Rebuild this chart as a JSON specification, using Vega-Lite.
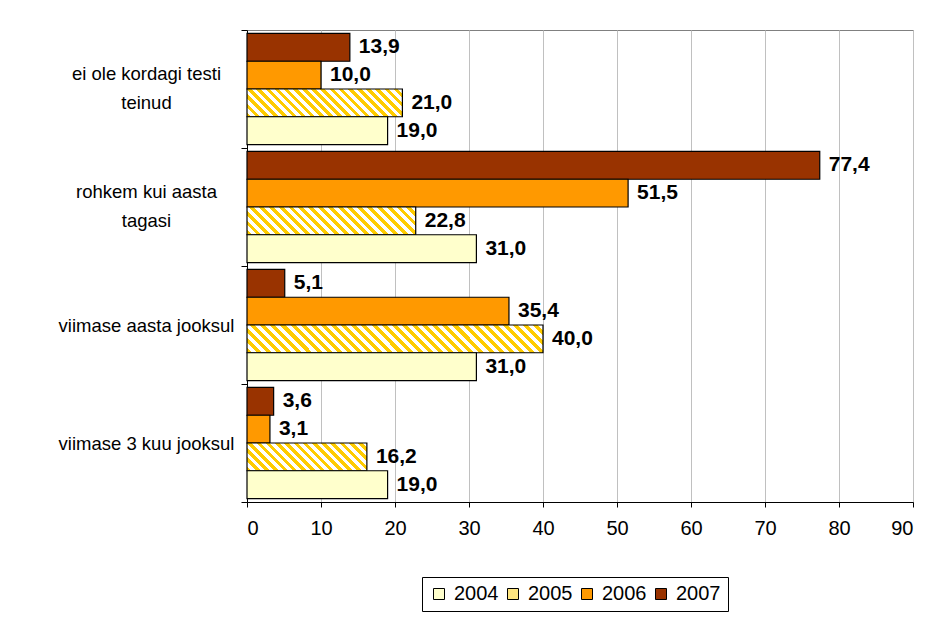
{
  "$schema": "https://vega.github.io/schema/vega-lite/v6.json",
  "width": 666,
  "height": 472,
  "autosize": {"type": "none"},
  "padding": {"left": 247, "top": 30, "right": 21, "bottom": 117},
  "background": "white",
  "data": {
    "values": [
      {"cat": "ei ole kordagi testi teinud", "year": "2007", "value": 13.9},
      {"cat": "ei ole kordagi testi teinud", "year": "2006", "value": 10.0},
      {"cat": "ei ole kordagi testi teinud", "year": "2005", "value": 21.0},
      {"cat": "ei ole kordagi testi teinud", "year": "2004", "value": 19.0},
      {"cat": "rohkem kui aasta tagasi", "year": "2007", "value": 77.4},
      {"cat": "rohkem kui aasta tagasi", "year": "2006", "value": 51.5},
      {"cat": "rohkem kui aasta tagasi", "year": "2005", "value": 22.8},
      {"cat": "rohkem kui aasta tagasi", "year": "2004", "value": 31.0},
      {"cat": "viimase aasta jooksul", "year": "2007", "value": 5.1},
      {"cat": "viimase aasta jooksul", "year": "2006", "value": 35.4},
      {"cat": "viimase aasta jooksul", "year": "2005", "value": 40.0},
      {"cat": "viimase aasta jooksul", "year": "2004", "value": 31.0},
      {"cat": "viimase 3 kuu jooksul", "year": "2007", "value": 3.6},
      {"cat": "viimase 3 kuu jooksul", "year": "2006", "value": 3.1},
      {"cat": "viimase 3 kuu jooksul", "year": "2005", "value": 16.2},
      {"cat": "viimase 3 kuu jooksul", "year": "2004", "value": 19.0}
    ]
  },
  "encoding": {
    "y": {
      "field": "cat",
      "type": "nominal",
      "sort": ["ei ole kordagi testi teinud", "rohkem kui aasta tagasi", "viimase aasta jooksul", "viimase 3 kuu jooksul"],
      "scale": {"paddingInner": 0, "paddingOuter": 0},
      "axis": {
        "title": null,
        "tickBand": "extent",
        "tickSize": 6,
        "tickColor": "black",
        "domainColor": "black",
        "grid": false,
        "labelAlign": "center",
        "labelBaseline": "middle",
        "labelPadding": 95,
        "labelLineHeight": 29,
        "labelOffset": {"condition": {"test": "datum.value == 'ei ole kordagi testi teinud' || datum.value == 'rohkem kui aasta tagasi'", "value": -16}, "value": 0},
        "labelFont": "Liberation Sans",
        "labelFontSize": 18.5,
        "labelColor": "black",
        "labelLimit": 400,
        "labelExpr": "datum.value == 'ei ole kordagi testi teinud' ? ['ei ole kordagi testi', 'teinud'] : datum.value == 'rohkem kui aasta tagasi' ? ['rohkem kui aasta', 'tagasi'] : datum.label"
      }
    },
    "yOffset": {
      "field": "year",
      "type": "nominal",
      "sort": ["2007", "2006", "2005", "2004"],
      "scale": {"paddingInner": 0, "paddingOuter": 0.125}
    },
    "x": {
      "field": "value",
      "type": "quantitative",
      "scale": {"domain": [0, 90], "nice": false},
      "axis": {
        "title": null,
        "values": [0, 10, 20, 30, 40, 50, 60, 70, 80, 90],
        "grid": true,
        "gridColor": "#C0C0C0",
        "gridWidth": 1,
        "domainColor": "black",
        "tickColor": "black",
        "tickSize": 5,
        "labelPadding": 11,
        "labelFont": "Liberation Sans",
        "labelFontSize": 20,
        "labelColor": "black",
        "format": "d"
      }
    }
  },
  "layer": [
    {
      "mark": {"type": "bar", "stroke": "black", "strokeWidth": 1.2},
      "encoding": {
        "fill": {
          "field": "year",
          "type": "nominal",
          "scale": {"domain": ["2004", "2005", "2006", "2007"], "range": ["#FFFFCC", "#FFE680", "#FF9900", "#993300"]},
          "legend": {
            "orient": "none",
            "legendX": 175,
            "legendY": 547,
            "direction": "horizontal",
            "title": null,
            "symbolType": "square",
            "symbolSize": 121,
            "symbolStrokeColor": "black",
            "symbolStrokeWidth": 1,
            "labelFont": "Liberation Sans",
            "labelFontSize": 20,
            "labelColor": "black",
            "labelOffset": 5,
            "columnPadding": 4,
            "padding": 7,
            "strokeColor": "black",
            "fillColor": "white",
            "encode": {
              "symbols": {
                "update": {
                  "fill": [
                    {"test": "datum.label === '2005'", "value": {"gradient": "linear", "x1": 0, "y1": 0, "x2": 1, "y2": 1, "stops": [{"offset": 0, "color": "#FFCC00"}, {"offset": 0.5, "color": "#FFCC00"}, {"offset": 0.5, "color": "#FFFFFF"}, {"offset": 1, "color": "#FFFFFF"}]}},
                    {"scale": "fill", "field": "value"}
                  ],
                  "stroke": {"value": "black"},
                  "strokeWidth": {"value": 1},
                  "opacity": {"value": 1}
                }
              }
            }
          },
          "condition": [
            {"test": "datum.year == '2005' && datum.cat == 'ei ole kordagi testi teinud'", "value": {"gradient": "linear", "x1": 0, "y1": 1, "x2": 1.14219, "y2": 0.79596, "stops": [
              {"offset": 0, "color": "#FFCC00"}, {"offset": 0.025, "color": "#FFCC00"}, {"offset": 0.025, "color": "#FFFFFF"}, {"offset": 0.05, "color": "#FFFFFF"},
              {"offset": 0.05, "color": "#FFCC00"}, {"offset": 0.075, "color": "#FFCC00"}, {"offset": 0.075, "color": "#FFFFFF"}, {"offset": 0.1, "color": "#FFFFFF"},
              {"offset": 0.1, "color": "#FFCC00"}, {"offset": 0.125, "color": "#FFCC00"}, {"offset": 0.125, "color": "#FFFFFF"}, {"offset": 0.15, "color": "#FFFFFF"},
              {"offset": 0.15, "color": "#FFCC00"}, {"offset": 0.175, "color": "#FFCC00"}, {"offset": 0.175, "color": "#FFFFFF"}, {"offset": 0.2, "color": "#FFFFFF"},
              {"offset": 0.2, "color": "#FFCC00"}, {"offset": 0.225, "color": "#FFCC00"}, {"offset": 0.225, "color": "#FFFFFF"}, {"offset": 0.25, "color": "#FFFFFF"},
              {"offset": 0.25, "color": "#FFCC00"}, {"offset": 0.275, "color": "#FFCC00"}, {"offset": 0.275, "color": "#FFFFFF"}, {"offset": 0.3, "color": "#FFFFFF"},
              {"offset": 0.3, "color": "#FFCC00"}, {"offset": 0.325, "color": "#FFCC00"}, {"offset": 0.325, "color": "#FFFFFF"}, {"offset": 0.35, "color": "#FFFFFF"},
              {"offset": 0.35, "color": "#FFCC00"}, {"offset": 0.375, "color": "#FFCC00"}, {"offset": 0.375, "color": "#FFFFFF"}, {"offset": 0.4, "color": "#FFFFFF"},
              {"offset": 0.4, "color": "#FFCC00"}, {"offset": 0.425, "color": "#FFCC00"}, {"offset": 0.425, "color": "#FFFFFF"}, {"offset": 0.45, "color": "#FFFFFF"},
              {"offset": 0.45, "color": "#FFCC00"}, {"offset": 0.475, "color": "#FFCC00"}, {"offset": 0.475, "color": "#FFFFFF"}, {"offset": 0.5, "color": "#FFFFFF"},
              {"offset": 0.5, "color": "#FFCC00"}, {"offset": 0.525, "color": "#FFCC00"}, {"offset": 0.525, "color": "#FFFFFF"}, {"offset": 0.55, "color": "#FFFFFF"},
              {"offset": 0.55, "color": "#FFCC00"}, {"offset": 0.575, "color": "#FFCC00"}, {"offset": 0.575, "color": "#FFFFFF"}, {"offset": 0.6, "color": "#FFFFFF"},
              {"offset": 0.6, "color": "#FFCC00"}, {"offset": 0.625, "color": "#FFCC00"}, {"offset": 0.625, "color": "#FFFFFF"}, {"offset": 0.65, "color": "#FFFFFF"},
              {"offset": 0.65, "color": "#FFCC00"}, {"offset": 0.675, "color": "#FFCC00"}, {"offset": 0.675, "color": "#FFFFFF"}, {"offset": 0.7, "color": "#FFFFFF"},
              {"offset": 0.7, "color": "#FFCC00"}, {"offset": 0.725, "color": "#FFCC00"}, {"offset": 0.725, "color": "#FFFFFF"}, {"offset": 0.75, "color": "#FFFFFF"},
              {"offset": 0.75, "color": "#FFCC00"}, {"offset": 0.775, "color": "#FFCC00"}, {"offset": 0.775, "color": "#FFFFFF"}, {"offset": 0.8, "color": "#FFFFFF"},
              {"offset": 0.8, "color": "#FFCC00"}, {"offset": 0.825, "color": "#FFCC00"}, {"offset": 0.825, "color": "#FFFFFF"}, {"offset": 0.85, "color": "#FFFFFF"},
              {"offset": 0.85, "color": "#FFCC00"}, {"offset": 0.875, "color": "#FFCC00"}, {"offset": 0.875, "color": "#FFFFFF"}, {"offset": 0.9, "color": "#FFFFFF"},
              {"offset": 0.9, "color": "#FFCC00"}, {"offset": 0.925, "color": "#FFCC00"}, {"offset": 0.925, "color": "#FFFFFF"}, {"offset": 0.95, "color": "#FFFFFF"},
              {"offset": 0.95, "color": "#FFCC00"}, {"offset": 0.975, "color": "#FFCC00"}, {"offset": 0.975, "color": "#FFFFFF"}, {"offset": 1, "color": "#FFFFFF"}
            ]}},
            {"test": "datum.year == '2005' && datum.cat == 'rohkem kui aasta tagasi'", "value": {"gradient": "linear", "x1": 0, "y1": 1, "x2": 1.13384, "y2": 0.81345, "stops": [
              {"offset": 0, "color": "#FFCC00"}, {"offset": 0.025, "color": "#FFCC00"}, {"offset": 0.025, "color": "#FFFFFF"}, {"offset": 0.05, "color": "#FFFFFF"},
              {"offset": 0.05, "color": "#FFCC00"}, {"offset": 0.075, "color": "#FFCC00"}, {"offset": 0.075, "color": "#FFFFFF"}, {"offset": 0.1, "color": "#FFFFFF"},
              {"offset": 0.1, "color": "#FFCC00"}, {"offset": 0.125, "color": "#FFCC00"}, {"offset": 0.125, "color": "#FFFFFF"}, {"offset": 0.15, "color": "#FFFFFF"},
              {"offset": 0.15, "color": "#FFCC00"}, {"offset": 0.175, "color": "#FFCC00"}, {"offset": 0.175, "color": "#FFFFFF"}, {"offset": 0.2, "color": "#FFFFFF"},
              {"offset": 0.2, "color": "#FFCC00"}, {"offset": 0.225, "color": "#FFCC00"}, {"offset": 0.225, "color": "#FFFFFF"}, {"offset": 0.25, "color": "#FFFFFF"},
              {"offset": 0.25, "color": "#FFCC00"}, {"offset": 0.275, "color": "#FFCC00"}, {"offset": 0.275, "color": "#FFFFFF"}, {"offset": 0.3, "color": "#FFFFFF"},
              {"offset": 0.3, "color": "#FFCC00"}, {"offset": 0.325, "color": "#FFCC00"}, {"offset": 0.325, "color": "#FFFFFF"}, {"offset": 0.35, "color": "#FFFFFF"},
              {"offset": 0.35, "color": "#FFCC00"}, {"offset": 0.375, "color": "#FFCC00"}, {"offset": 0.375, "color": "#FFFFFF"}, {"offset": 0.4, "color": "#FFFFFF"},
              {"offset": 0.4, "color": "#FFCC00"}, {"offset": 0.425, "color": "#FFCC00"}, {"offset": 0.425, "color": "#FFFFFF"}, {"offset": 0.45, "color": "#FFFFFF"},
              {"offset": 0.45, "color": "#FFCC00"}, {"offset": 0.475, "color": "#FFCC00"}, {"offset": 0.475, "color": "#FFFFFF"}, {"offset": 0.5, "color": "#FFFFFF"},
              {"offset": 0.5, "color": "#FFCC00"}, {"offset": 0.525, "color": "#FFCC00"}, {"offset": 0.525, "color": "#FFFFFF"}, {"offset": 0.55, "color": "#FFFFFF"},
              {"offset": 0.55, "color": "#FFCC00"}, {"offset": 0.575, "color": "#FFCC00"}, {"offset": 0.575, "color": "#FFFFFF"}, {"offset": 0.6, "color": "#FFFFFF"},
              {"offset": 0.6, "color": "#FFCC00"}, {"offset": 0.625, "color": "#FFCC00"}, {"offset": 0.625, "color": "#FFFFFF"}, {"offset": 0.65, "color": "#FFFFFF"},
              {"offset": 0.65, "color": "#FFCC00"}, {"offset": 0.675, "color": "#FFCC00"}, {"offset": 0.675, "color": "#FFFFFF"}, {"offset": 0.7, "color": "#FFFFFF"},
              {"offset": 0.7, "color": "#FFCC00"}, {"offset": 0.725, "color": "#FFCC00"}, {"offset": 0.725, "color": "#FFFFFF"}, {"offset": 0.75, "color": "#FFFFFF"},
              {"offset": 0.75, "color": "#FFCC00"}, {"offset": 0.775, "color": "#FFCC00"}, {"offset": 0.775, "color": "#FFFFFF"}, {"offset": 0.8, "color": "#FFFFFF"},
              {"offset": 0.8, "color": "#FFCC00"}, {"offset": 0.825, "color": "#FFCC00"}, {"offset": 0.825, "color": "#FFFFFF"}, {"offset": 0.85, "color": "#FFFFFF"},
              {"offset": 0.85, "color": "#FFCC00"}, {"offset": 0.875, "color": "#FFCC00"}, {"offset": 0.875, "color": "#FFFFFF"}, {"offset": 0.9, "color": "#FFFFFF"},
              {"offset": 0.9, "color": "#FFCC00"}, {"offset": 0.925, "color": "#FFCC00"}, {"offset": 0.925, "color": "#FFFFFF"}, {"offset": 0.95, "color": "#FFFFFF"},
              {"offset": 0.95, "color": "#FFCC00"}, {"offset": 0.975, "color": "#FFCC00"}, {"offset": 0.975, "color": "#FFFFFF"}, {"offset": 1, "color": "#FFFFFF"}
            ]}},
            {"test": "datum.year == '2005' && datum.cat == 'viimase aasta jooksul'", "value": {"gradient": "linear", "x1": 0, "y1": 1, "x2": 1.08425, "y2": 0.89832, "stops": [
              {"offset": 0, "color": "#FFCC00"}, {"offset": 0.015625, "color": "#FFCC00"}, {"offset": 0.015625, "color": "#FFFFFF"}, {"offset": 0.03125, "color": "#FFFFFF"},
              {"offset": 0.03125, "color": "#FFCC00"}, {"offset": 0.046875, "color": "#FFCC00"}, {"offset": 0.046875, "color": "#FFFFFF"}, {"offset": 0.0625, "color": "#FFFFFF"},
              {"offset": 0.0625, "color": "#FFCC00"}, {"offset": 0.078125, "color": "#FFCC00"}, {"offset": 0.078125, "color": "#FFFFFF"}, {"offset": 0.09375, "color": "#FFFFFF"},
              {"offset": 0.09375, "color": "#FFCC00"}, {"offset": 0.109375, "color": "#FFCC00"}, {"offset": 0.109375, "color": "#FFFFFF"}, {"offset": 0.125, "color": "#FFFFFF"},
              {"offset": 0.125, "color": "#FFCC00"}, {"offset": 0.140625, "color": "#FFCC00"}, {"offset": 0.140625, "color": "#FFFFFF"}, {"offset": 0.15625, "color": "#FFFFFF"},
              {"offset": 0.15625, "color": "#FFCC00"}, {"offset": 0.171875, "color": "#FFCC00"}, {"offset": 0.171875, "color": "#FFFFFF"}, {"offset": 0.1875, "color": "#FFFFFF"},
              {"offset": 0.1875, "color": "#FFCC00"}, {"offset": 0.203125, "color": "#FFCC00"}, {"offset": 0.203125, "color": "#FFFFFF"}, {"offset": 0.21875, "color": "#FFFFFF"},
              {"offset": 0.21875, "color": "#FFCC00"}, {"offset": 0.234375, "color": "#FFCC00"}, {"offset": 0.234375, "color": "#FFFFFF"}, {"offset": 0.25, "color": "#FFFFFF"},
              {"offset": 0.25, "color": "#FFCC00"}, {"offset": 0.265625, "color": "#FFCC00"}, {"offset": 0.265625, "color": "#FFFFFF"}, {"offset": 0.28125, "color": "#FFFFFF"},
              {"offset": 0.28125, "color": "#FFCC00"}, {"offset": 0.296875, "color": "#FFCC00"}, {"offset": 0.296875, "color": "#FFFFFF"}, {"offset": 0.3125, "color": "#FFFFFF"},
              {"offset": 0.3125, "color": "#FFCC00"}, {"offset": 0.328125, "color": "#FFCC00"}, {"offset": 0.328125, "color": "#FFFFFF"}, {"offset": 0.34375, "color": "#FFFFFF"},
              {"offset": 0.34375, "color": "#FFCC00"}, {"offset": 0.359375, "color": "#FFCC00"}, {"offset": 0.359375, "color": "#FFFFFF"}, {"offset": 0.375, "color": "#FFFFFF"},
              {"offset": 0.375, "color": "#FFCC00"}, {"offset": 0.390625, "color": "#FFCC00"}, {"offset": 0.390625, "color": "#FFFFFF"}, {"offset": 0.40625, "color": "#FFFFFF"},
              {"offset": 0.40625, "color": "#FFCC00"}, {"offset": 0.421875, "color": "#FFCC00"}, {"offset": 0.421875, "color": "#FFFFFF"}, {"offset": 0.4375, "color": "#FFFFFF"},
              {"offset": 0.4375, "color": "#FFCC00"}, {"offset": 0.453125, "color": "#FFCC00"}, {"offset": 0.453125, "color": "#FFFFFF"}, {"offset": 0.46875, "color": "#FFFFFF"},
              {"offset": 0.46875, "color": "#FFCC00"}, {"offset": 0.484375, "color": "#FFCC00"}, {"offset": 0.484375, "color": "#FFFFFF"}, {"offset": 0.5, "color": "#FFFFFF"},
              {"offset": 0.5, "color": "#FFCC00"}, {"offset": 0.515625, "color": "#FFCC00"}, {"offset": 0.515625, "color": "#FFFFFF"}, {"offset": 0.53125, "color": "#FFFFFF"},
              {"offset": 0.53125, "color": "#FFCC00"}, {"offset": 0.546875, "color": "#FFCC00"}, {"offset": 0.546875, "color": "#FFFFFF"}, {"offset": 0.5625, "color": "#FFFFFF"},
              {"offset": 0.5625, "color": "#FFCC00"}, {"offset": 0.578125, "color": "#FFCC00"}, {"offset": 0.578125, "color": "#FFFFFF"}, {"offset": 0.59375, "color": "#FFFFFF"},
              {"offset": 0.59375, "color": "#FFCC00"}, {"offset": 0.609375, "color": "#FFCC00"}, {"offset": 0.609375, "color": "#FFFFFF"}, {"offset": 0.625, "color": "#FFFFFF"},
              {"offset": 0.625, "color": "#FFCC00"}, {"offset": 0.640625, "color": "#FFCC00"}, {"offset": 0.640625, "color": "#FFFFFF"}, {"offset": 0.65625, "color": "#FFFFFF"},
              {"offset": 0.65625, "color": "#FFCC00"}, {"offset": 0.671875, "color": "#FFCC00"}, {"offset": 0.671875, "color": "#FFFFFF"}, {"offset": 0.6875, "color": "#FFFFFF"},
              {"offset": 0.6875, "color": "#FFCC00"}, {"offset": 0.703125, "color": "#FFCC00"}, {"offset": 0.703125, "color": "#FFFFFF"}, {"offset": 0.71875, "color": "#FFFFFF"},
              {"offset": 0.71875, "color": "#FFCC00"}, {"offset": 0.734375, "color": "#FFCC00"}, {"offset": 0.734375, "color": "#FFFFFF"}, {"offset": 0.75, "color": "#FFFFFF"},
              {"offset": 0.75, "color": "#FFCC00"}, {"offset": 0.765625, "color": "#FFCC00"}, {"offset": 0.765625, "color": "#FFFFFF"}, {"offset": 0.78125, "color": "#FFFFFF"},
              {"offset": 0.78125, "color": "#FFCC00"}, {"offset": 0.796875, "color": "#FFCC00"}, {"offset": 0.796875, "color": "#FFFFFF"}, {"offset": 0.8125, "color": "#FFFFFF"},
              {"offset": 0.8125, "color": "#FFCC00"}, {"offset": 0.828125, "color": "#FFCC00"}, {"offset": 0.828125, "color": "#FFFFFF"}, {"offset": 0.84375, "color": "#FFFFFF"},
              {"offset": 0.84375, "color": "#FFCC00"}, {"offset": 0.859375, "color": "#FFCC00"}, {"offset": 0.859375, "color": "#FFFFFF"}, {"offset": 0.875, "color": "#FFFFFF"},
              {"offset": 0.875, "color": "#FFCC00"}, {"offset": 0.890625, "color": "#FFCC00"}, {"offset": 0.890625, "color": "#FFFFFF"}, {"offset": 0.90625, "color": "#FFFFFF"},
              {"offset": 0.90625, "color": "#FFCC00"}, {"offset": 0.921875, "color": "#FFCC00"}, {"offset": 0.921875, "color": "#FFFFFF"}, {"offset": 0.9375, "color": "#FFFFFF"},
              {"offset": 0.9375, "color": "#FFCC00"}, {"offset": 0.953125, "color": "#FFCC00"}, {"offset": 0.953125, "color": "#FFFFFF"}, {"offset": 0.96875, "color": "#FFFFFF"},
              {"offset": 0.96875, "color": "#FFCC00"}, {"offset": 0.984375, "color": "#FFCC00"}, {"offset": 0.984375, "color": "#FFFFFF"}, {"offset": 1, "color": "#FFFFFF"}
            ]}},
            {"test": "datum.year == '2005' && datum.cat == 'viimase 3 kuu jooksul'", "value": {"gradient": "linear", "x1": 0, "y1": 1, "x2": 1.16889, "y2": 0.72933, "stops": [
              {"offset": 0, "color": "#FFCC00"}, {"offset": 0.03125, "color": "#FFCC00"}, {"offset": 0.03125, "color": "#FFFFFF"}, {"offset": 0.0625, "color": "#FFFFFF"},
              {"offset": 0.0625, "color": "#FFCC00"}, {"offset": 0.09375, "color": "#FFCC00"}, {"offset": 0.09375, "color": "#FFFFFF"}, {"offset": 0.125, "color": "#FFFFFF"},
              {"offset": 0.125, "color": "#FFCC00"}, {"offset": 0.15625, "color": "#FFCC00"}, {"offset": 0.15625, "color": "#FFFFFF"}, {"offset": 0.1875, "color": "#FFFFFF"},
              {"offset": 0.1875, "color": "#FFCC00"}, {"offset": 0.21875, "color": "#FFCC00"}, {"offset": 0.21875, "color": "#FFFFFF"}, {"offset": 0.25, "color": "#FFFFFF"},
              {"offset": 0.25, "color": "#FFCC00"}, {"offset": 0.28125, "color": "#FFCC00"}, {"offset": 0.28125, "color": "#FFFFFF"}, {"offset": 0.3125, "color": "#FFFFFF"},
              {"offset": 0.3125, "color": "#FFCC00"}, {"offset": 0.34375, "color": "#FFCC00"}, {"offset": 0.34375, "color": "#FFFFFF"}, {"offset": 0.375, "color": "#FFFFFF"},
              {"offset": 0.375, "color": "#FFCC00"}, {"offset": 0.40625, "color": "#FFCC00"}, {"offset": 0.40625, "color": "#FFFFFF"}, {"offset": 0.4375, "color": "#FFFFFF"},
              {"offset": 0.4375, "color": "#FFCC00"}, {"offset": 0.46875, "color": "#FFCC00"}, {"offset": 0.46875, "color": "#FFFFFF"}, {"offset": 0.5, "color": "#FFFFFF"},
              {"offset": 0.5, "color": "#FFCC00"}, {"offset": 0.53125, "color": "#FFCC00"}, {"offset": 0.53125, "color": "#FFFFFF"}, {"offset": 0.5625, "color": "#FFFFFF"},
              {"offset": 0.5625, "color": "#FFCC00"}, {"offset": 0.59375, "color": "#FFCC00"}, {"offset": 0.59375, "color": "#FFFFFF"}, {"offset": 0.625, "color": "#FFFFFF"},
              {"offset": 0.625, "color": "#FFCC00"}, {"offset": 0.65625, "color": "#FFCC00"}, {"offset": 0.65625, "color": "#FFFFFF"}, {"offset": 0.6875, "color": "#FFFFFF"},
              {"offset": 0.6875, "color": "#FFCC00"}, {"offset": 0.71875, "color": "#FFCC00"}, {"offset": 0.71875, "color": "#FFFFFF"}, {"offset": 0.75, "color": "#FFFFFF"},
              {"offset": 0.75, "color": "#FFCC00"}, {"offset": 0.78125, "color": "#FFCC00"}, {"offset": 0.78125, "color": "#FFFFFF"}, {"offset": 0.8125, "color": "#FFFFFF"},
              {"offset": 0.8125, "color": "#FFCC00"}, {"offset": 0.84375, "color": "#FFCC00"}, {"offset": 0.84375, "color": "#FFFFFF"}, {"offset": 0.875, "color": "#FFFFFF"},
              {"offset": 0.875, "color": "#FFCC00"}, {"offset": 0.90625, "color": "#FFCC00"}, {"offset": 0.90625, "color": "#FFFFFF"}, {"offset": 0.9375, "color": "#FFFFFF"},
              {"offset": 0.9375, "color": "#FFCC00"}, {"offset": 0.96875, "color": "#FFCC00"}, {"offset": 0.96875, "color": "#FFFFFF"}, {"offset": 1, "color": "#FFFFFF"}
            ]}}
          ]
        }
      }
    },
    {
      "mark": {"type": "text", "align": "left", "baseline": "middle", "dx": 9, "font": "Liberation Sans", "fontWeight": "bold", "fontSize": 21, "color": "black"},
      "encoding": {
        "text": {"field": "value", "type": "quantitative", "format": ".1f"}
      }
    }
  ],
  "config": {
    "locale": {"number": {"decimal": ",", "thousands": " ", "grouping": [3], "currency": ["", " €"]}},
    "view": {"stroke": "#808080", "strokeWidth": 1},
    "font": "Liberation Sans"
  }
}
